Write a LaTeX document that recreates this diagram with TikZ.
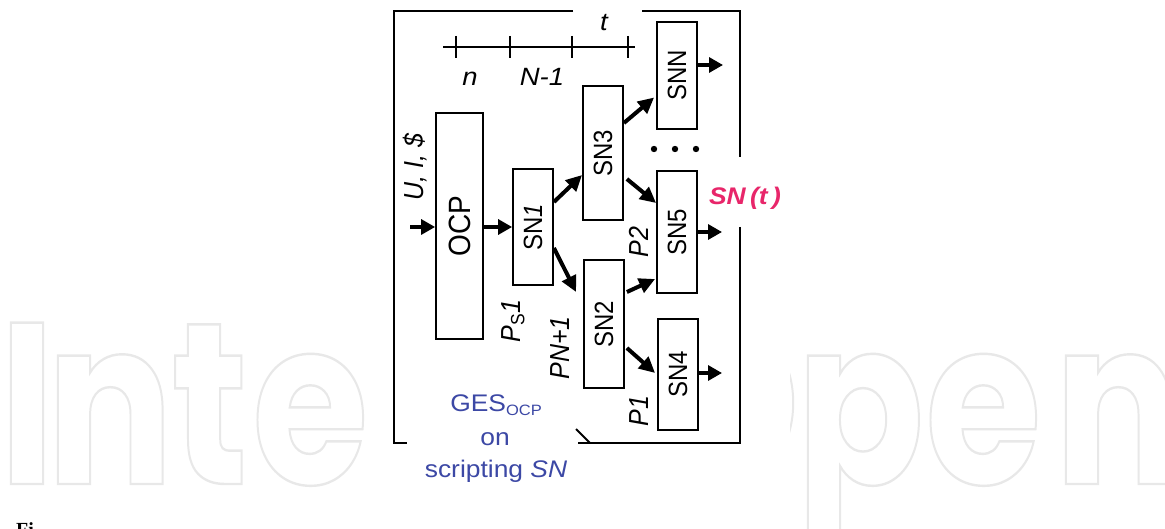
\documentclass[tikz,border=0pt]{standalone}
\usepackage{fontspec}
\setmainfont{Liberation Sans}
\newfontfamily\wmfont{Poppins}
\newfontfamily\capfont{Liberation Serif}
\usetikzlibrary{arrows.meta,calc}
\definecolor{gesblue}{RGB}{60,72,165}
\definecolor{snpink}{RGB}{232,38,106}
\definecolor{wmgray}{RGB}{232,232,232}
\newcommand{\hs}[1]{\scalebox{1.1}[1]{#1}}
\newcommand{\vs}[1]{\rotatebox{90}{\scalebox{1}[1.1]{#1}}}
\newcommand{\wml}[1]{\scalebox{0.82}[1]{\special{pdf:literal direct 1 Tr 2.4 w}#1\special{pdf:literal direct 0 Tr}}}
\begin{document}
\begin{tikzpicture}[x=1pt,y=-1pt,
  box/.style={draw, line width=1.8pt, inner sep=0pt, font=\fontsize{24}{24}\selectfont},
  arr/.style={line width=3.2pt, -{Triangle[length=14pt,width=15pt]}},
  darr/.style={line width=4pt, -{Triangle[length=16pt,width=15pt]}},
  lbl/.style={inner sep=0pt, font=\fontsize{25}{25}\selectfont\itshape},
  frm/.style={line width=1.8pt},
  wm/.style={inner sep=0pt, anchor=base west, text=wmgray, font=\wmfont\bfseries\fontsize{230}{230}\selectfont},
  gestext/.style={inner sep=0pt, anchor=base, text=gesblue, font=\fontsize{24}{24}\selectfont},
]
\useasboundingbox (0,0) rectangle (1165,529);
\fill[white] (0,0) rectangle (1165,529);
% watermark
\node[wm] (wI) at (-1,484) {\wml{I}};
\node[wm] (wn) at (46,484) {\wml{n}};
\node[wm] (wt) at (171,484) {\wml{t}};
\node[wm] (we) at (252,484) {\wml{e}};
\node[wm] (wO) at (651,484) {\wml{O}};
\node[wm] (wp) at (796,484) {\wml{p}};
\node[wm] (we2) at (925,484) {\wml{e}};
\node[wm] (wn2) at (1054,484) {\wml{n}};
% white ground of the figure
\fill[white] (390,0) rectangle (790,495);
% caption remnant
\node[inner sep=0pt, anchor=base west, font=\capfont\bfseries\fontsize{20}{20}\selectfont] (cap) at (16,536) {Fi};
% frame
\draw[frm] (573,11) -- (394,11) -- (394,443) -- (407,443);
\draw[frm] (642,11) -- (740,11) -- (740,157);
\draw[frm] (740,227) -- (740,443) -- (578,443);
\draw[frm] (576,429) -- (590,443);
% time axis
\draw[frm] (443,47) -- (635,47);
\foreach \x in {456,510,572,628} \draw[frm] (\x,36) -- (\x,58);
\node[lbl] (n) at (470,79) {\hs{n}};
\node[lbl] (N1) at (542,77) {\hs{N-1}};
\node[lbl] (t) at (604,23) {\hs{t}};
% boxes
\node[box, minimum width=47pt, minimum height=226pt] (OCP) at (459.5,226) {\vs{\fontsize{28}{28}\selectfont OCP}};
\node[box, minimum width=40pt, minimum height=116pt] (SN1) at (533,227) {\vs{SN\textit{1}}};
\node[box, minimum width=40pt, minimum height=134pt] (SN3) at (603,153) {\vs{SN3}};
\node[box, minimum width=40pt, minimum height=128pt] (SN2) at (604,324) {\vs{SN2}};
\node[box, minimum width=40pt, minimum height=107pt] (SNN) at (677,75.5) {\vs{SNN}};
\node[box, minimum width=40pt, minimum height=122pt] (SN5) at (677,232) {\vs{SN5}};
\node[box, minimum width=40pt, minimum height=111pt] (SN4) at (678,374.5) {\vs{SN4}};
% labels
\node[lbl] (UIS) at (415,167) {\vs{U, I, \$}};
\node[lbl] (PS1) at (513,321) {\vs{P\textsubscript{\upshape S}1}};
\node[lbl] (PN1) at (560,348) {\vs{PN+1}};
\node[lbl] (P2) at (639,242) {\vs{P2}};
\node[lbl] (P1) at (639,411) {\vs{P1}};
\node[inner sep=0pt, anchor=base, text=snpink, font=\fontsize{24}{24}\selectfont\bfseries\itshape] (SNt) at (745,205) {\hs{SN\,(t\,)}};
\node[gestext] (ges1) at (496,411) {\hs{GES\raisebox{-4pt}{\fontsize{15}{15}\selectfont OCP}}};
\node[gestext] (ges2) at (495,445) {\hs{on}};
\node[gestext] (ges3) at (496,477) {\hs{scripting \textit{SN}}};
% dots
\foreach \x in {654,675,696} \fill (\x,149) circle (3.2);
% connectors
\coordinate (in) at (410,227);
\coordinate (oNN) at (723,65);
\coordinate (oS5) at (722,232);
\coordinate (oS4) at (722,373);
\draw[arr] (in) -- (in -| OCP.west);
\draw[arr] (OCP.east |- SN1.west) -- (SN1.west);
\draw[darr] ([yshift=25pt]SN1.east) -- ([yshift=-22pt]SN3.west);
\draw[darr] ([yshift=-21pt]SN1.east) -- ([xshift=-7pt,yshift=32pt]SN2.west);
\draw[darr] ([yshift=30pt]SN3.east) -- ([xshift=-2pt,yshift=-22pt]SNN.west);
\draw[darr] ([xshift=3pt,yshift=-26pt]SN3.east) -- ([yshift=29pt]SN5.west);
\draw[darr] ([xshift=2pt,yshift=32pt]SN2.east) -- ([xshift=-1pt,yshift=-47pt]SN5.west);
\draw[darr] ([xshift=2pt,yshift=-24pt]SN2.east) -- ([xshift=-2pt,yshift=1.5pt]SN4.west);
\draw[arr] (SNN.east |- oNN) -- (oNN);
\draw[arr] (SN5.east |- oS5) -- (oS5);
\draw[arr] (SN4.east |- oS4) -- (oS4);
\end{tikzpicture}
\end{document}
